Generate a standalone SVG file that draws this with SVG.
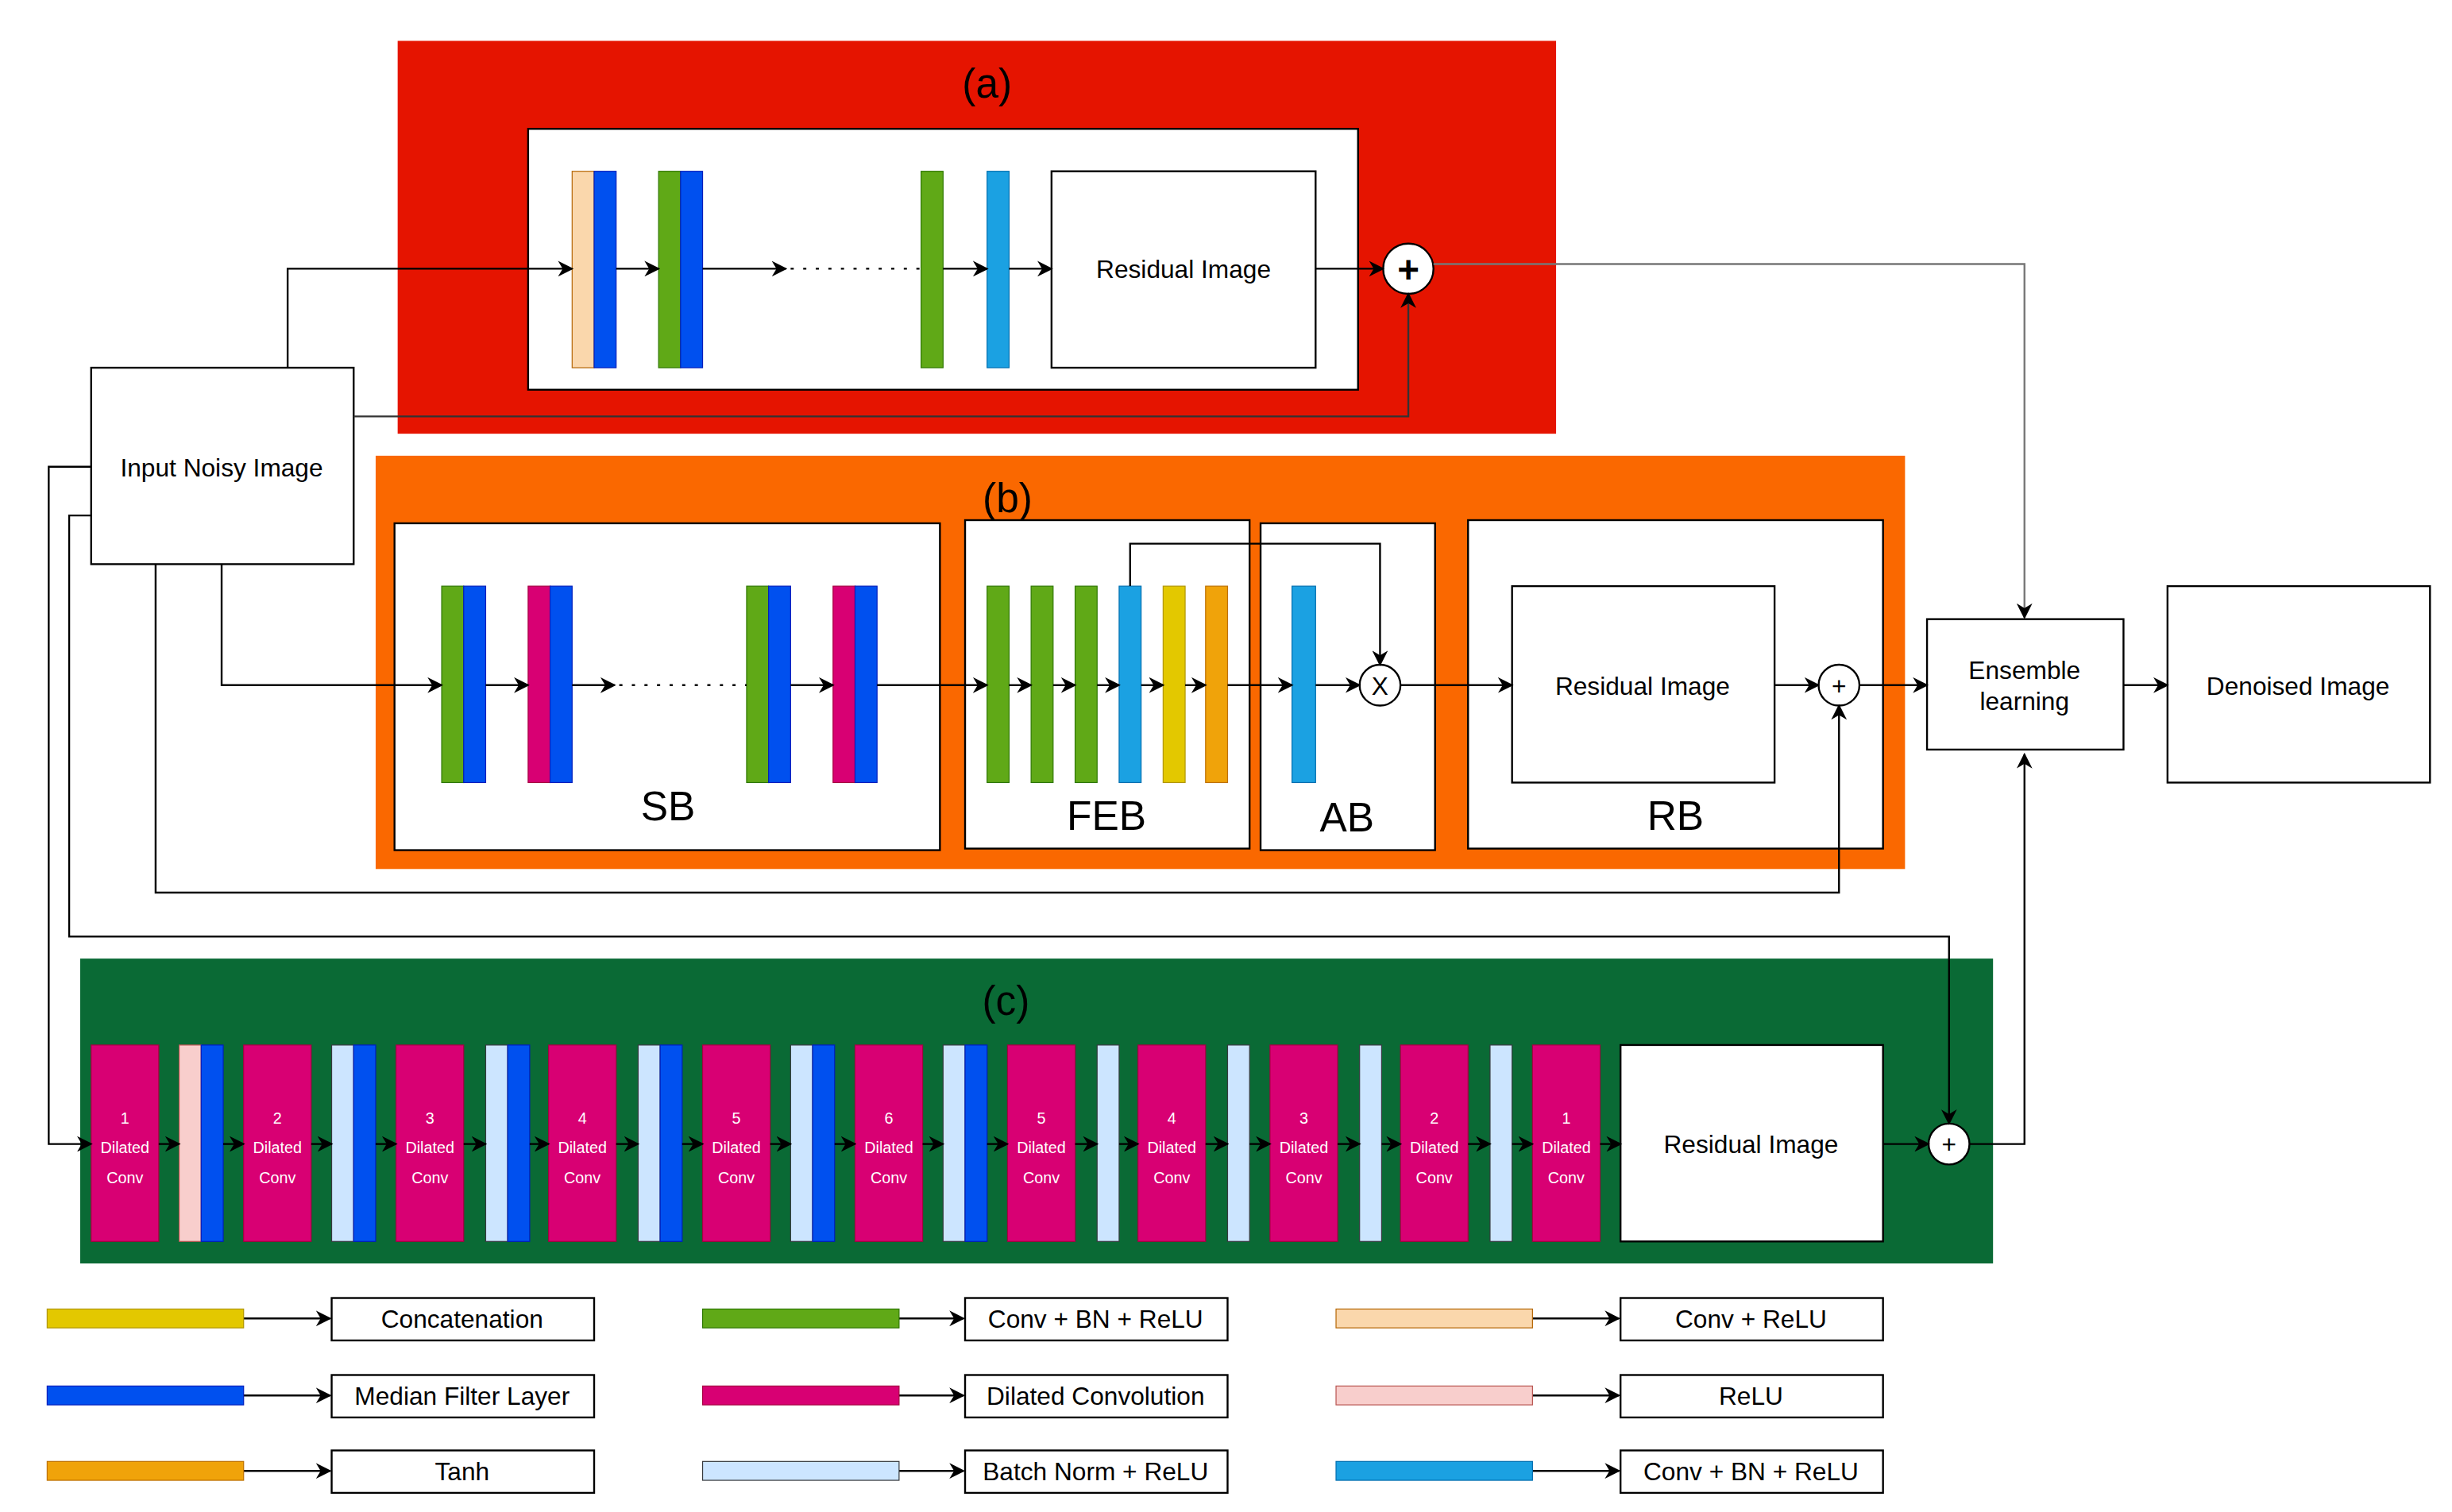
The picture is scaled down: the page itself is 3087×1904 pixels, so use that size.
<svg xmlns="http://www.w3.org/2000/svg" width="3087" height="1904" viewBox="0 0 3087 1904">
<defs>
<marker id="ah" viewBox="0 0 10 10" refX="9" refY="5" markerWidth="10" markerHeight="10" markerUnits="userSpaceOnUse" orient="auto"><path d="M0,0 L10,5 L0,10 L3,5 z" fill="#000"/></marker>
<style>
text{font-family:"Liberation Sans",Arial,sans-serif;fill:#000}
.box{fill:#fff;stroke:#000;stroke-width:1.2}
.ln{fill:none;stroke:#000;stroke-width:1.2}
.ar{fill:none;stroke:#000;stroke-width:1.2;marker-end:url(#ah)}
.t16{font-size:16px;text-anchor:middle}
.big{font-size:26px;text-anchor:middle}
.mg{fill:#d80073;stroke:#a50040;stroke-width:0.6}
.bl{fill:#0050ef;stroke:#001dbc;stroke-width:0.6}
.gr{fill:#60a917;stroke:#2d7600;stroke-width:0.6}
.lb{fill:#1ba1e2;stroke:#006eaf;stroke-width:0.6}
.ye{fill:#e3c800;stroke:#b09500;stroke-width:0.6}
.or{fill:#f0a30a;stroke:#bd7000;stroke-width:0.6}
.pe{fill:#fad7ac;stroke:#b46504;stroke-width:0.6}
.pk{fill:#f8cecc;stroke:#b85450;stroke-width:0.6}
.bn{fill:#cce5ff;stroke:#36393d;stroke-width:0.6}
.wt{fill:#fff;font-size:10px;text-anchor:middle}
</style>
</defs>
<rect width="3087" height="1904" fill="#fff"/>
<g transform="scale(1.97885)">
<g id="panel-a">
<rect x="253" y="26" width="737" height="250" fill="#e51400"/>
<text x="628" y="62" class="big">(a)</text>
<rect x="336" y="82" width="528" height="166" class="box"/>
<rect x="364" y="109" width="14" height="125" class="pe"/><rect x="378" y="109" width="14" height="125" class="bl"/>
<rect x="419" y="109" width="14" height="125" class="gr"/><rect x="433" y="109" width="14" height="125" class="bl"/>
<rect x="586" y="109" width="14" height="125" class="gr"/>
<rect x="628" y="109" width="14" height="125" class="lb"/>
<rect x="669" y="109" width="168" height="125" class="box"/>
<text x="753" y="177" class="t16">Residual Image</text>
<circle cx="896" cy="171" r="16" class="box"/>
<text x="896" y="180" class="big" style="font-size:24px;font-weight:bold">+</text>
</g>
<g id="input"><rect x="58" y="234" width="167" height="125" class="box"/><text x="141" y="303" class="t16">Input Noisy Image</text></g>
<g id="panel-b">
<rect x="239" y="290" width="973" height="263" fill="#fa6800"/>
<text x="641" y="326" class="big">(b)</text>
<rect x="251" y="333" width="347" height="208" class="box"/>
<rect x="614" y="331" width="181" height="209" class="box"/>
<rect x="802" y="333" width="111" height="208" class="box"/>
<rect x="934" y="331" width="264" height="209" class="box"/>
<rect x="281" y="373" width="14" height="125" class="gr"/><rect x="295" y="373" width="14" height="125" class="bl"/>
<rect x="336" y="373" width="14" height="125" class="mg"/><rect x="350" y="373" width="14" height="125" class="bl"/>
<rect x="475" y="373" width="14" height="125" class="gr"/><rect x="489" y="373" width="14" height="125" class="bl"/>
<rect x="530" y="373" width="14" height="125" class="mg"/><rect x="544" y="373" width="14" height="125" class="bl"/>
<text x="425" y="522" class="big">SB</text>
<rect x="628" y="373" width="14" height="125" class="gr"/>
<rect x="656" y="373" width="14" height="125" class="gr"/>
<rect x="684" y="373" width="14" height="125" class="gr"/>
<rect x="712" y="373" width="14" height="125" class="lb"/>
<rect x="740" y="373" width="14" height="125" class="ye"/>
<rect x="767" y="373" width="14" height="125" class="or"/>
<text x="704" y="528" class="big">FEB</text>
<rect x="822" y="373" width="15" height="125" class="lb"/>
<circle cx="878" cy="436" r="13" class="box"/><text x="878" y="442" class="t16">X</text>
<text x="857" y="529" class="big">AB</text>
<rect x="962" y="373" width="167" height="125" class="box"/>
<text x="1045" y="442" class="t16">Residual Image</text>
<circle cx="1170" cy="436" r="13" class="box"/><text x="1170" y="442" class="t16">+</text>
<text x="1066" y="528" class="big">RB</text>
</g>
<g id="ensemble"><rect x="1226" y="394" width="125" height="83" class="box"/><text x="1288" y="432" class="t16">Ensemble</text><text x="1288" y="452" class="t16">learning</text></g>
<g id="denoised"><rect x="1379" y="373" width="167" height="125" class="box"/><text x="1462" y="442" class="t16">Denoised Image</text></g>
<g id="panel-c">
<rect x="51" y="610" width="1217" height="194" fill="#0a6a35"/>
<text x="640" y="646" class="big">(c)</text>
<g id="c-blocks">
<rect x="114" y="665" width="14" height="125" class="pk"/><rect x="128" y="665" width="14" height="125" class="bl"/>
<rect x="211" y="665" width="14" height="125" class="bn"/><rect x="225" y="665" width="14" height="125" class="bl"/>
<rect x="309" y="665" width="14" height="125" class="bn"/><rect x="323" y="665" width="14" height="125" class="bl"/>
<rect x="406" y="665" width="14" height="125" class="bn"/><rect x="420" y="665" width="14" height="125" class="bl"/>
<rect x="503" y="665" width="14" height="125" class="bn"/><rect x="517" y="665" width="14" height="125" class="bl"/>
<rect x="600" y="665" width="14" height="125" class="bn"/><rect x="614" y="665" width="14" height="125" class="bl"/>
<rect x="698" y="665" width="14" height="125" class="bn"/>
<rect x="781" y="665" width="14" height="125" class="bn"/>
<rect x="865" y="665" width="14" height="125" class="bn"/>
<rect x="948" y="665" width="14" height="125" class="bn"/>
</g>
<g id="d1"><rect x="58" y="665" width="43" height="125" class="mg"/><text x="79.5" y="715" class="wt">1</text><text x="79.5" y="734" class="wt">Dilated</text><text x="79.5" y="753" class="wt">Conv</text></g>
<g id="d2"><rect x="155" y="665" width="43" height="125" class="mg"/><text x="176.5" y="715" class="wt">2</text><text x="176.5" y="734" class="wt">Dilated</text><text x="176.5" y="753" class="wt">Conv</text></g>
<g id="d3"><rect x="252" y="665" width="43" height="125" class="mg"/><text x="273.5" y="715" class="wt">3</text><text x="273.5" y="734" class="wt">Dilated</text><text x="273.5" y="753" class="wt">Conv</text></g>
<g id="d4"><rect x="349" y="665" width="43" height="125" class="mg"/><text x="370.5" y="715" class="wt">4</text><text x="370.5" y="734" class="wt">Dilated</text><text x="370.5" y="753" class="wt">Conv</text></g>
<g id="d5"><rect x="447" y="665" width="43" height="125" class="mg"/><text x="468.5" y="715" class="wt">5</text><text x="468.5" y="734" class="wt">Dilated</text><text x="468.5" y="753" class="wt">Conv</text></g>
<g id="d6"><rect x="544" y="665" width="43" height="125" class="mg"/><text x="565.5" y="715" class="wt">6</text><text x="565.5" y="734" class="wt">Dilated</text><text x="565.5" y="753" class="wt">Conv</text></g>
<g id="d5b"><rect x="641" y="665" width="43" height="125" class="mg"/><text x="662.5" y="715" class="wt">5</text><text x="662.5" y="734" class="wt">Dilated</text><text x="662.5" y="753" class="wt">Conv</text></g>
<g id="d4b"><rect x="724" y="665" width="43" height="125" class="mg"/><text x="745.5" y="715" class="wt">4</text><text x="745.5" y="734" class="wt">Dilated</text><text x="745.5" y="753" class="wt">Conv</text></g>
<g id="d3b"><rect x="808" y="665" width="43" height="125" class="mg"/><text x="829.5" y="715" class="wt">3</text><text x="829.5" y="734" class="wt">Dilated</text><text x="829.5" y="753" class="wt">Conv</text></g>
<g id="d2b"><rect x="891" y="665" width="43" height="125" class="mg"/><text x="912.5" y="715" class="wt">2</text><text x="912.5" y="734" class="wt">Dilated</text><text x="912.5" y="753" class="wt">Conv</text></g>
<g id="d1b"><rect x="975" y="665" width="43" height="125" class="mg"/><text x="996.5" y="715" class="wt">1</text><text x="996.5" y="734" class="wt">Dilated</text><text x="996.5" y="753" class="wt">Conv</text></g>
<g id="c-res"><rect x="1031" y="665" width="167" height="125" class="box"/><text x="1114" y="734" class="t16">Residual Image</text></g>
<g id="c-plus"><circle cx="1240" cy="728" r="13" class="box"/><text x="1240" y="734" class="t16">+</text></g>
</g>
<g id="connectors">
<path d="M183,234 V171 H364" class="ar"/>
<path d="M392,171 H419" class="ar"/>
<path d="M447,171 H500" class="ar"/>
<path d="M503,171 H586" class="ln" stroke-dasharray="2,6"/>
<path d="M600,171 H628" class="ar"/>
<path d="M642,171 H669" class="ar"/>
<path d="M837,171 H880" class="ar"/>
<path d="M225,265 H896 V187" class="ar" style="stroke:#333"/>
<path d="M912,168 H1288 V393" class="ar" style="stroke:#777"/>
<path d="M141,359 V436 H281" class="ar"/>
<path d="M309,436 H336" class="ar"/>
<path d="M364,436 H391" class="ar"/>
<path d="M394,436 H475" class="ln" stroke-dasharray="2,6"/>
<path d="M503,436 H530" class="ar"/>
<path d="M558,436 H628" class="ar"/>
<path d="M642,436 H656" class="ar"/>
<path d="M670,436 H684" class="ar"/>
<path d="M698,436 H712" class="ar"/>
<path d="M726,436 H740" class="ar"/>
<path d="M754,436 H767" class="ar"/>
<path d="M781,436 H822" class="ar"/>
<path d="M837,436 H865" class="ar"/>
<path d="M719,373 V346 H878 V423" class="ar"/>
<path d="M891,436 H962" class="ar"/>
<path d="M1129,436 H1157" class="ar"/>
<path d="M1183,436 H1226" class="ar"/>
<path d="M1351,436 H1379" class="ar"/>
<path d="M99,359 V568 H1170 V449" class="ar"/>
<path d="M58,297 H31 V728 H58" class="ar"/>
<path d="M58,328 H44 V596 H1240 V715" class="ar"/>
<path d="M101,728 H114" class="ar"/>
<path d="M142,728 H155" class="ar"/>
<path d="M198,728 H211" class="ar"/>
<path d="M239,728 H252" class="ar"/>
<path d="M295,728 H309" class="ar"/>
<path d="M337,728 H349" class="ar"/>
<path d="M392,728 H406" class="ar"/>
<path d="M434,728 H447" class="ar"/>
<path d="M490,728 H503" class="ar"/>
<path d="M531,728 H544" class="ar"/>
<path d="M587,728 H600" class="ar"/>
<path d="M628,728 H641" class="ar"/>
<path d="M684,728 H698" class="ar"/>
<path d="M712,728 H724" class="ar"/>
<path d="M767,728 H781" class="ar"/>
<path d="M795,728 H808" class="ar"/>
<path d="M851,728 H865" class="ar"/>
<path d="M879,728 H891" class="ar"/>
<path d="M934,728 H948" class="ar"/>
<path d="M962,728 H975" class="ar"/>
<path d="M1018,728 H1031" class="ar"/>
<path d="M1198,728 H1227" class="ar"/>
<path d="M1253,728 H1288 V480" class="ar"/>
<path d="M155,839 H210" class="ar"/><path d="M155,888 H210" class="ar"/><path d="M155,936 H210" class="ar"/>
<path d="M572,839 H613" class="ar"/><path d="M572,888 H613" class="ar"/><path d="M572,936 H613" class="ar"/>
<path d="M975,839 H1030" class="ar"/><path d="M975,888 H1030" class="ar"/><path d="M975,936 H1030" class="ar"/>
</g>
<g id="legend">
<rect x="30" y="833" width="125" height="12" class="ye"/><rect x="211" y="826" width="167" height="27" class="box"/><text x="294" y="845" class="t16">Concatenation</text>
<rect x="30" y="882" width="125" height="12" class="bl"/><rect x="211" y="875" width="167" height="27" class="box"/><text x="294" y="894" class="t16">Median Filter Layer</text>
<rect x="30" y="930" width="125" height="12" class="or"/><rect x="211" y="923" width="167" height="27" class="box"/><text x="294" y="942" class="t16">Tanh</text>
<rect x="447" y="833" width="125" height="12" class="gr"/><rect x="614" y="826" width="167" height="27" class="box"/><text x="697" y="845" class="t16">Conv + BN + ReLU</text>
<rect x="447" y="882" width="125" height="12" class="mg"/><rect x="614" y="875" width="167" height="27" class="box"/><text x="697" y="894" class="t16">Dilated Convolution</text>
<rect x="447" y="930" width="125" height="12" class="bn"/><rect x="614" y="923" width="167" height="27" class="box"/><text x="697" y="942" class="t16">Batch Norm + ReLU</text>
<rect x="850" y="833" width="125" height="12" class="pe"/><rect x="1031" y="826" width="167" height="27" class="box"/><text x="1114" y="845" class="t16">Conv + ReLU</text>
<rect x="850" y="882" width="125" height="12" class="pk"/><rect x="1031" y="875" width="167" height="27" class="box"/><text x="1114" y="894" class="t16">ReLU</text>
<rect x="850" y="930" width="125" height="12" class="lb"/><rect x="1031" y="923" width="167" height="27" class="box"/><text x="1114" y="942" class="t16">Conv + BN + ReLU</text>
</g>
</g>
</svg>
